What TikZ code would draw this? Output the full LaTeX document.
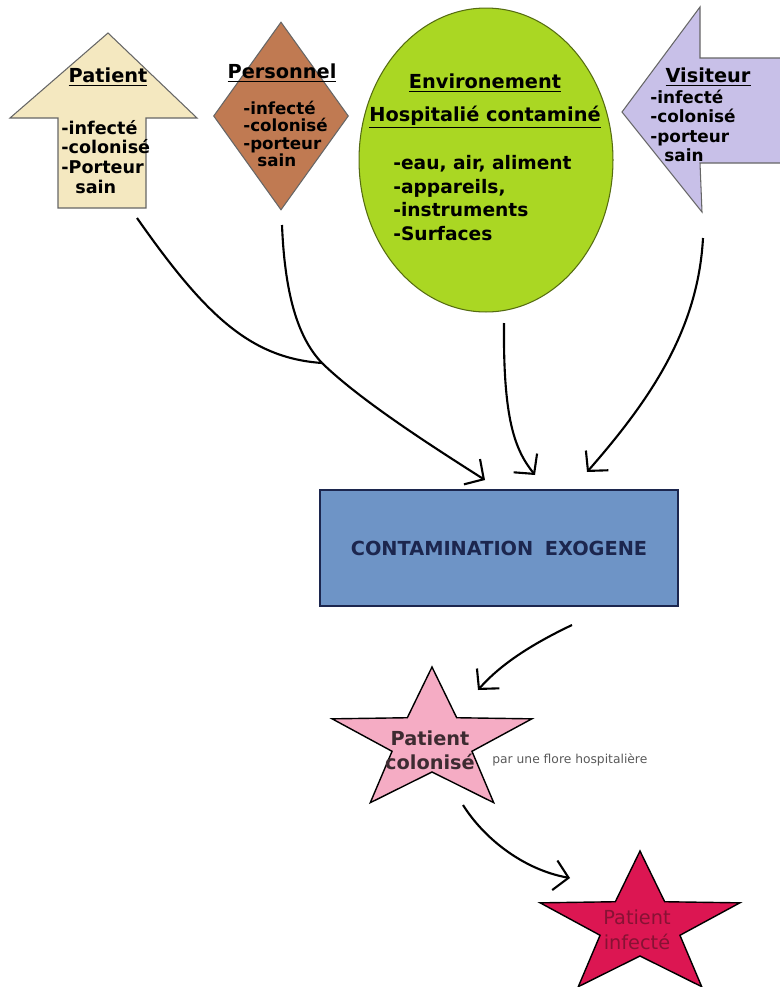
\documentclass[tikz,border=0pt]{standalone}
\usepackage{fontspec}
\setmainfont{DejaVu Sans}
\usetikzlibrary{shapes,arrows.meta,positioning,calc}
\definecolor{patientbeige}{RGB}{244,232,192}
\definecolor{persbrown}{RGB}{192,122,82}
\definecolor{envgreen}{RGB}{170,215,35}
\definecolor{vislilac}{RGB}{200,192,232}
\definecolor{exoblue}{RGB}{110,148,198}
\definecolor{exonavy}{RGB}{28,38,78}
\definecolor{colpink}{RGB}{245,172,196}
\definecolor{infred}{RGB}{220,22,82}
\definecolor{infdark}{RGB}{135,18,52}
\tikzset{
  shapeline/.style={draw=black!60, line width=0.6pt},
  title/.style={font=\bfseries\fontsize{11}{12}\selectfont, inner sep=0pt},
  itemlist/.style={font=\bfseries\fontsize{10}{11.3}\selectfont, align=left, anchor=west, inner sep=0pt},
  flow/.style={line width=1.2pt, -{Straight Barb[length=2.8mm,width=6mm]}},
  starshape/.style={star, star points=5, star point ratio=2.5, minimum size=3cm, xscale=1.4, draw=black, line width=0.8pt, inner sep=0pt}
}
\begin{document}
\begin{tikzpicture}[x=0.02cm, y=-0.02cm]
    \useasboundingbox (0,0) rectangle (780,987);
    \draw[shapeline, fill=patientbeige] (108,33) -- (197,118) -- (146,118) -- (146,208) -- (58,208) -- (58,118) -- (10,118) -- cycle;
    \node[title] (pattitle) at (108,77) {\underline{Patient}};
    \node[itemlist] (patlist) at (61,157) {-infecté\\-colonisé\\-Porteur\\\hspace{8pt}sain};
    \node[diamond, shapeline, fill=persbrown, minimum width=2.7cm, minimum height=3.76cm, inner sep=0pt] (pers) at (281,116) {};
    \node[title] (perstitle) at (282,73) {\underline{Personnel}};
    \node[itemlist, font=\bfseries\fontsize{9.5}{9.9}\selectfont] (perslist) at (243,134) {-infecté\\-colonisé\\-porteur\\\hspace{8pt}sain};
    \node[ellipse, draw=black!50!envgreen, line width=0.6pt, fill=envgreen, minimum width=5.08cm, minimum height=6.08cm, inner sep=0pt] (env) at (486,160) {};
    \node[title, align=center, font=\bfseries\fontsize{11}{18.7}\selectfont] (envtitle) at (485,101) {\underline{Environement}\\\underline{Hospitalié contaminé}};
    \node[itemlist, font=\bfseries\fontsize{10.6}{13.5}\selectfont] (envlist) at (393,198) {-eau, air, aliment\\-appareils,\\-instruments\\-Surfaces};
    \draw[shapeline, fill=vislilac] (622,112) -- (700,7) -- (700,58) -- (782,58) -- (782,163) -- (700,163) -- (702,212) -- cycle;
    \node[title] (vistitle) at (708,77) {\underline{Visiteur}};
    \node[itemlist, font=\bfseries\fontsize{9.6}{11}\selectfont] (vislist) at (650,126) {-infecté\\-colonisé\\-porteur\\\hspace{8pt}sain};
    \node[draw=exonavy, line width=1.2pt, fill=exoblue, minimum width=7.16cm, minimum height=2.32cm, text=exonavy, font=\bfseries\fontsize{11}{12}\selectfont] (exo) at (499,548) {CONTAMINATION\hspace{0.6em}EXOGENE};
    \node[starshape, fill=colpink] (col) at (432,742) {};
    \node[title, align=center, text=black!75!colpink, font=\bfseries\fontsize{11}{13.5}\selectfont] (coltext) at (430,750) {Patient\\colonisé};
    \node[anchor=west, inner sep=0pt, text=black!65, font=\fontsize{7}{8}\selectfont] (flore) at (492,760) {par une flore hospitalière};
    \node[starshape, fill=infred] (inf) at (640,926) {};
    \node[title, align=center, text=infdark, font=\fontsize{11}{14}\selectfont] (inftext) at (637,930) {Patient\\infecté};
    \coordinate (pat-out) at (137,218);
    \coordinate (pers-out) at (282,225);
    \coordinate (merge) at (322,363);
    \coordinate (exo-in1) at (485,480);
    \coordinate (env-out) at (504,323);
    \coordinate (exo-in2) at (535,475);
    \coordinate (vis-out) at (703,238);
    \coordinate (exo-in3) at (587,472);
    \coordinate (exo-out) at (572,625);
    \coordinate (col-in) at (478,690);
    \coordinate (col-out) at (463,805);
    \coordinate (inf-in) at (570,878);
    \draw[line width=1.2pt] (pat-out) .. controls (205,315) and (250,358) .. (merge);
    \draw[flow] (pers-out) .. controls (285,300) and (300,340) .. (merge) .. controls (360,400) and (430,445) .. (exo-in1);
    \draw[flow] (env-out) .. controls (503,420) and (515,450) .. (exo-in2);
    \draw[flow] (vis-out) .. controls (698,330) and (650,400) .. (exo-in3);
    \draw[flow] (exo-out) .. controls (530,645) and (500,665) .. (col-in);
    \draw[flow] (col-out) .. controls (485,840) and (525,870) .. (inf-in);
\end{tikzpicture}
\end{document}
